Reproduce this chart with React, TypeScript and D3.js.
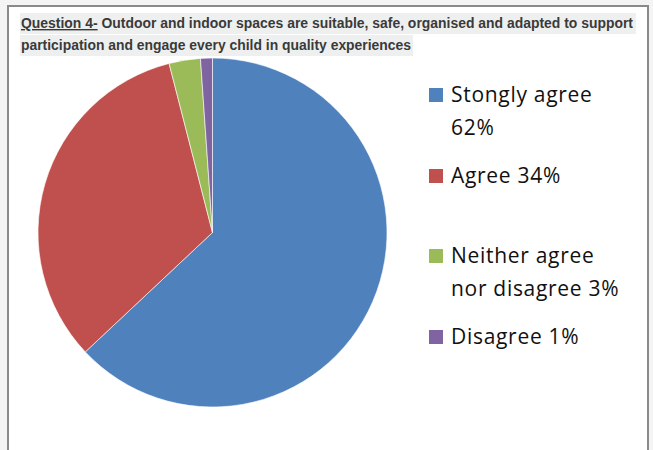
import React, { useEffect, useRef } from "react";
import * as d3 from "d3";

// answer categories, clockwise from 12 o'clock
const categories = ["Stongly agree", "Agree", "Neither agree nor disagree", "Disagree"];
// share of each slice
const shares = [63.0, 33.0, 2.9, 1.1];
// legend text as printed, split into lines
const legendLines = [
  ["Stongly agree", "62%"],
  ["Agree 34%"],
  ["Neither agree", "nor disagree 3%"],
  ["Disagree 1%"],
];
const colors = ["#4f81bd", "#c0504d", "#9bbb59", "#8064a2"];
const titleLead = "Question 4-";
const titleRest1 = " Outdoor and indoor spaces are suitable, safe, organised and adapted to support";
const titleLine2 = "participation and engage every child in quality experiences";

const App = () => {
  const ref = useRef(null);

  useEffect(() => {
    const width = 653;
    const height = 450;
    const svg = d3.select(ref.current);
    svg.selectAll("*").remove();
    svg.attr("width", width).attr("height", height).attr("viewBox", [0, 0, width, height]);

    // page backdrop and frame
    svg.append("rect").attr("width", width).attr("height", height).attr("fill", "#f3f4f3");
    svg.append("rect").attr("x", 8).attr("y", 6).attr("width", 640).attr("height", 460)
      .attr("fill", "#fff").attr("stroke", "#8a8a8a").attr("stroke-width", 2);

    // title with grey highlight
    const tf = "'Liberation Sans Narrow', 'Liberation Sans', Arial, sans-serif";
    svg.append("rect").attr("x", 20).attr("y", 13).attr("width", 616).attr("height", 21).attr("fill", "#eef0ef");
    svg.append("rect").attr("x", 20).attr("y", 35).attr("width", 393).attr("height", 21).attr("fill", "#eef0ef");
    const t1 = svg.append("text").attr("x", 21).attr("y", 28)
      .attr("font-family", tf).attr("font-weight", "bold").attr("font-size", 14).attr("fill", "#3a3a3a")
      .attr("textLength", 612).attr("lengthAdjust", "spacingAndGlyphs");
    t1.append("tspan").attr("text-decoration", "underline").text(titleLead);
    t1.append("tspan").text(titleRest1);
    svg.append("text").attr("x", 21).attr("y", 50)
      .attr("font-family", tf).attr("font-weight", "bold").attr("font-size", 14).attr("fill", "#3a3a3a")
      .attr("textLength", 390).attr("lengthAdjust", "spacingAndGlyphs")
      .text(titleLine2);

    // pie
    const cx = 212.5, cy = 232.5, r = 174.5;
    const pie = d3.pie<number>().sort(null).value((d) => d);
    const arc = d3.arc<d3.PieArcDatum<number>>().innerRadius(0).outerRadius(r);
    svg.append("g").attr("transform", `translate(${cx},${cy})`)
      .selectAll("path")
      .data(pie(shares))
      .join("path")
      .attr("d", arc)
      .attr("fill", (d, i) => colors[i])
      .attr("stroke", "#fff")
      .attr("stroke-width", 0.6);

    // legend
    const rowY = [102, 183, 263, 344];
    const lg = svg.append("g").attr("font-family", "'Open Sans', 'Noto Sans', sans-serif")
      .attr("font-size", 21).attr("letter-spacing", 0.7).attr("fill", "#111");
    categories.forEach((c, i) => {
      lg.append("rect").attr("x", 429).attr("y", rowY[i] - 14).attr("width", 14).attr("height", 14).attr("fill", colors[i]);
      legendLines[i].forEach((line, j) => {
        lg.append("text").attr("x", 451).attr("y", rowY[i] + j * 33).text(line);
      });
    });
  }, []);

  return <svg ref={ref} style={{ position: "absolute", left: 0, top: 0 }}></svg>;
};

export default App;
